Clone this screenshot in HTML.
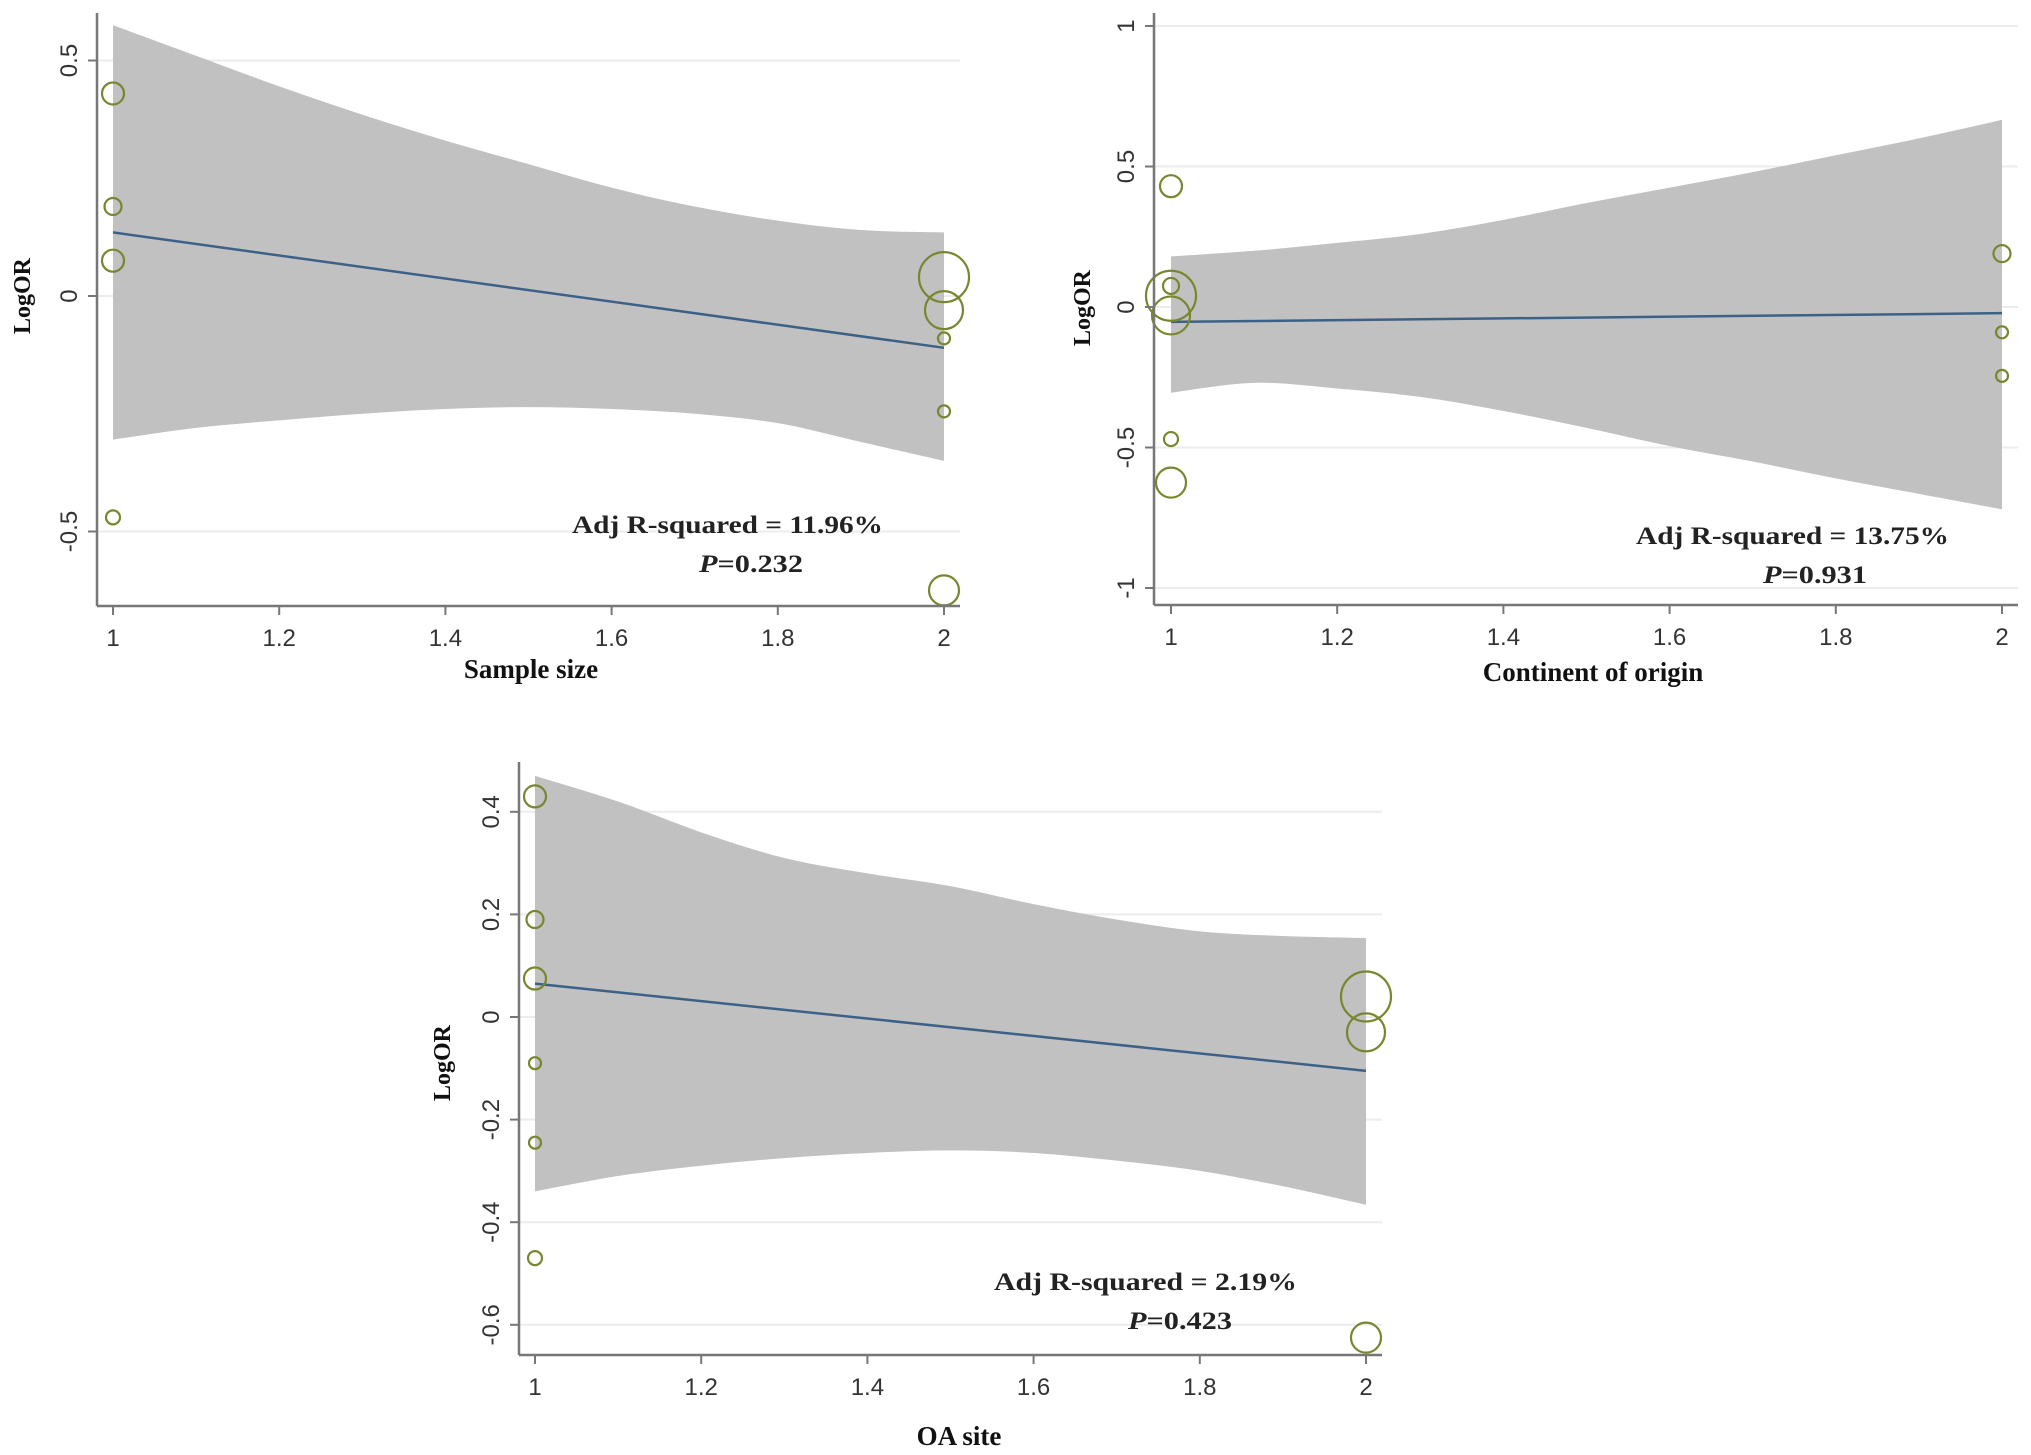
<!DOCTYPE html>
<html><head><meta charset="utf-8"><style>
html,body{margin:0;padding:0;background:#fff;}
svg{display:block;}
.tick{font-family:"Liberation Sans",sans-serif;font-size:24px;fill:#333;}
.ttl{font-family:"Liberation Serif",serif;font-weight:bold;fill:#111;}
.ann{font-family:"Liberation Serif",serif;font-weight:bold;font-size:25px;fill:#222;}
</style></head><body>
<svg id="chart" width="2031" height="1455" viewBox="0 0 2031 1455" xmlns="http://www.w3.org/2000/svg"></svg>
<script>
// x grid for CI bands and fit line
const bandX = [1,1.1,1.2,1.3,1.4,1.5,1.6,1.7,1.8,1.9,2];
// Panel 1: Sample size
const p1PointsX = [1,1,1,1,2,2,2,2,2];
const p1PointsY = [0.43,0.19,0.075,-0.47,0.04,-0.03,-0.09,-0.245,-0.625];
const p1PointsR = [11,8.5,11,7,25,19,6,6,15];
const p1Fit = [0.135,-0.11];
const p1Upper = [0.575,0.51,0.445,0.385,0.33,0.28,0.23,0.19,0.16,0.14,0.135];
const p1Lower = [-0.305,-0.28,-0.264,-0.25,-0.24,-0.236,-0.24,-0.25,-0.27,-0.31,-0.35];
const p1YTicks = [0.5,0,-0.5];
const p1YLabels = ["0.5","0","-0.5"];
// Panel 2: Continent of origin
const p2PointsX = [1,1,1,1,1,1,2,2,2];
const p2PointsY = [0.43,0.075,0.04,-0.03,-0.47,-0.625,0.19,-0.09,-0.245];
const p2PointsR = [11,8,25,19,7,15,8.5,6,6];
const p2Fit = [-0.053,-0.022];
const p2Upper = [0.18,0.2,0.228,0.26,0.31,0.37,0.425,0.48,0.54,0.6,0.666];
const p2Lower = [-0.305,-0.27,-0.29,-0.32,-0.37,-0.43,-0.495,-0.55,-0.61,-0.665,-0.72];
const p2YTicks = [1,0.5,0,-0.5,-1];
const p2YLabels = ["1","0.5","0","-0.5","-1"];
// Panel 3: OA site
const p3PointsX = [1,1,1,1,1,1,2,2,2];
const p3PointsY = [0.43,0.19,0.075,-0.09,-0.245,-0.47,0.04,-0.03,-0.625];
const p3PointsR = [11,8.5,11,6,6,7,25,19,15];
const p3Fit = [0.065,-0.105];
const p3Upper = [0.47,0.42,0.36,0.31,0.28,0.255,0.22,0.19,0.167,0.158,0.154];
const p3Lower = [-0.34,-0.31,-0.29,-0.275,-0.265,-0.26,-0.265,-0.28,-0.3,-0.33,-0.366];
const p3YTicks = [0.4,0.2,0,-0.2,-0.4,-0.6];
const p3YLabels = ["0.4","0.2","0","-0.2","-0.4","-0.6"];
const xTicks = [1,1.2,1.4,1.6,1.8,2];
const xTickLabels = ["1","1.2","1.4","1.6","1.8","2"];

const NS="http://www.w3.org/2000/svg";
const svg=document.getElementById('chart');
function mk(tag,attrs,parent,text){const e=document.createElementNS(NS,tag);for(const k in attrs)e.setAttribute(k,attrs[k]);if(text!==undefined)e.textContent=text;(parent||svg).appendChild(e);return e;}

function smooth(pts){
  let d='';
  for(let i=0;i<pts.length-1;i++){
    const p0=pts[Math.max(i-1,0)],p1=pts[i],p2=pts[i+1],p3=pts[Math.min(i+2,pts.length-1)];
    const c1=[p1[0]+(p2[0]-p0[0])/6,p1[1]+(p2[1]-p0[1])/6];
    const c2=[p2[0]-(p3[0]-p1[0])/6,p2[1]-(p3[1]-p1[1])/6];
    d+='C'+c1[0]+','+c1[1]+' '+c2[0]+','+c2[1]+' '+p2[0]+','+p2[1];
  }
  return d;
}

function panel(cfg){
  const g=mk('g',{});
  
  
  const sx=v=>cfg.x1+(v-1)*(cfg.x2-cfg.x1);
  const sy=v=>cfg.y0-v*cfg.yk;
  cfg.yTicks.forEach(t=>{
    const l=mk('line',{x1:cfg.ax,x2:cfg.right,y1:sy(t),y2:sy(t),stroke:'#ececec','stroke-width':2},g);
    
    
  });
  const up=bandX.map((x,i)=>[sx(x),sy(cfg.upper[i])]);
  const lo=bandX.map((x,i)=>[sx(x),sy(cfg.lower[i])]).reverse();
  const d='M'+up[0][0]+','+up[0][1]+smooth(up)+'L'+lo[0][0]+','+lo[0][1]+smooth(lo)+'Z';
  const band=mk('path',{d:d,fill:'#c1c1c1'},g);
  
  
  const fl=mk('line',{x1:sx(1),y1:sy(cfg.fit[0]),x2:sx(2),y2:sy(cfg.fit[1]),stroke:'#3d6186','stroke-width':2.5},g);
  
  
  cfg.px.forEach((x,i)=>{
    const c=mk('circle',{cx:sx(x),cy:sy(cfg.py[i]),r:cfg.pr[i],fill:'none',stroke:'#76872f','stroke-width':2.2},g);
    
    
  });
  const ya=mk('line',{x1:cfg.ax,x2:cfg.ax,y1:cfg.top,y2:cfg.ay,stroke:'#777','stroke-width':2.5},g);
  
  
  const xa=mk('line',{x1:cfg.ax,x2:cfg.right,y1:cfg.ay,y2:cfg.ay,stroke:'#777','stroke-width':2.5},g);
  
  
  xTicks.forEach((t,i)=>{
    mk('line',{x1:sx(t),x2:sx(t),y1:cfg.ay,y2:cfg.ay+9,stroke:'#777','stroke-width':2},g);
    const tl=mk('text',{x:sx(t),y:cfg.ay+40,'text-anchor':'middle',class:'tick'},g,xTickLabels[i]);
    
    
  });
  cfg.yTicks.forEach((t,i)=>{
    mk('line',{x1:cfg.ax-9,x2:cfg.ax,y1:sy(t),y2:sy(t),stroke:'#777','stroke-width':2},g);
    const lx=cfg.ax-20;
    const tl=mk('text',{x:lx,y:sy(t),'text-anchor':'middle',transform:'rotate(-90 '+lx+' '+sy(t)+')',class:'tick'},g,cfg.yLabels[i]);
    
    
  });
  const xt=mk('text',{x:cfg.xtx,y:cfg.xty,'text-anchor':'middle',class:'ttl','font-size':27},g,cfg.xtitle);
  
  
  const yt=mk('text',{x:cfg.ytx,y:cfg.yty,'text-anchor':'middle',class:'ttl','font-size':24,transform:'rotate(-90 '+cfg.ytx+' '+cfg.yty+')'},g,'LogOR');
  
  
  const a1=mk('text',{x:cfg.annX,y:cfg.annY,class:'ann',textLength:cfg.annW,lengthAdjust:'spacingAndGlyphs'},g,cfg.ann);
  
  
  const a2=mk('text',{x:cfg.pX,y:cfg.annY+39,class:'ann',textLength:104,lengthAdjust:'spacingAndGlyphs'},g);
  
  
  mk('tspan',{'font-style':'italic'},a2,'P');
  mk('tspan',{},a2,'='+cfg.p);
}

panel({name:'panel-sample-size',x1:113,x2:944,y0:296,yk:471,ax:97,ay:606,top:13,right:960,
 px:p1PointsX,py:p1PointsY,pr:p1PointsR,fit:p1Fit,upper:p1Upper,lower:p1Lower,yTicks:p1YTicks,yLabels:p1YLabels,
 xtitle:'Sample size',xtx:531,xty:678,ytx:30,yty:296,ann:'Adj R-squared  =  11.96%',annX:572,annY:533,annW:311,pX:699,p:'0.232'});
panel({name:'panel-continent-of-origin',x1:1171,x2:2002,y0:307,yk:281,ax:1154,ay:605,top:13,right:2018,
 px:p2PointsX,py:p2PointsY,pr:p2PointsR,fit:p2Fit,upper:p2Upper,lower:p2Lower,yTicks:p2YTicks,yLabels:p2YLabels,
 xtitle:'Continent of origin',xtx:1593,xty:681,ytx:1090,yty:308,ann:'Adj R-squared  = 13.75%',annX:1636,annY:544,annW:313,pX:1763,p:'0.931'});
panel({name:'panel-oa-site',x1:535,x2:1366,y0:1017,yk:513,ax:519,ay:1355,top:762,right:1382,
 px:p3PointsX,py:p3PointsY,pr:p3PointsR,fit:p3Fit,upper:p3Upper,lower:p3Lower,yTicks:p3YTicks,yLabels:p3YLabels,
 xtitle:'OA site',xtx:959,xty:1445,ytx:450,yty:1063,ann:'Adj R-squared  =  2.19%',annX:994,annY:1290,annW:303,pX:1128,p:'0.423'});
</script>
</body></html>
